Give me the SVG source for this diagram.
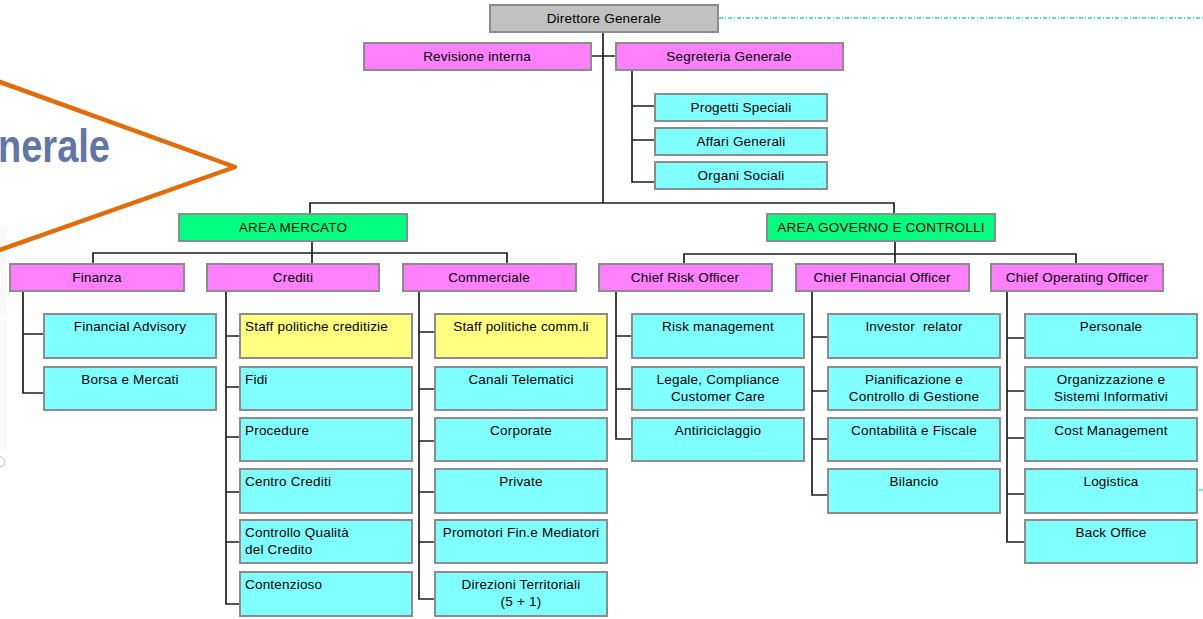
<svg xmlns="http://www.w3.org/2000/svg" width="1203" height="619" viewBox="0 0 1203 619">
<style>
.b{stroke:#8c8c8c;stroke-width:2}
.pk{fill:#ff80ff}.cy{fill:#80ffff}.ye{fill:#ffff80}.gr{fill:#00ff80}.gy{fill:#c0c0c0}
.t{font-family:"Liberation Sans",Arial,sans-serif;font-size:13.5px;letter-spacing:0.2px;fill:#000}
.c{text-anchor:middle}
.ln{fill:none;stroke:#1e1e1e;stroke-width:1.7}
</style>
<rect width="1203" height="619" fill="#fff"/>
<!-- background decoration -->
<g id="decor">
<rect x="0" y="227" width="7" height="88" fill="#f9f9f9"/>
<rect x="0" y="320" width="7" height="130" fill="#fafafa"/>
<path d="M0 456 L4 459 L5 465 L0 467" fill="none" stroke="#c8c8c8" stroke-width="1"/>
<polyline points="-10,78.4 235,167 -10,253.5" fill="none" stroke="#e36c0a" stroke-width="4.5" stroke-linejoin="round"/>
<text x="-2" y="162" textLength="112" lengthAdjust="spacingAndGlyphs" font-family="Liberation Sans,Arial,sans-serif" font-size="46" font-weight="bold" fill="#6275a8">nerale</text>
<line x1="719" y1="18" x2="1203" y2="18" stroke="#20dca8" stroke-width="1.5" stroke-dasharray="4 2 1 2"/>
<line x1="1199" y1="490" x2="1203" y2="490" stroke="#20dca8" stroke-width="1.5" stroke-dasharray="2 1"/>
</g>
<g id="connectors" class="ln">
<path d="M603 32V203M591 56H616"/>
<path d="M632 70V182H655M632 106H655M632 140H655"/>
<path d="M310 214V203H894V214"/>
<path d="M312 241V264M93 264V253H507V264"/>
<path d="M895 241V264M684 264V254H1076V264"/>
<path d="M23 291V393H44M23 334H44"/>
<path d="M226 291V604H240M226 336H240M226 387H240M226 437H240M226 492H240M226 542H240"/>
<path d="M419 291V599H435M419 332H435M419 389H435M419 441H435M419 492H435M419 542H435"/>
<path d="M616 291V439H632M616 336H632M616 389H632"/>
<path d="M812 291V495H828M812 337H828M812 391H828M812 439H828"/>
<path d="M1007 291V542H1025M1007 338H1025M1007 391H1025M1007 438H1025M1007 494H1025"/>
</g>
<g id="dg"><rect class="b gy" x="490" y="5" width="228" height="27"/><text class="t c" x="604" y="23">Direttore Generale</text></g>
<g id="revisione"><rect class="b pk" x="364" y="43" width="227" height="27"/><text class="t c" x="477" y="61">Revisione interna</text></g>
<g id="segreteria"><rect class="b pk" x="616" y="43" width="227" height="27"/><text class="t c" x="729" y="61">Segreteria Generale</text></g>
<g id="progetti"><rect class="b cy" x="655" y="94" width="172" height="27"/><text class="t c" x="741" y="112">Progetti Speciali</text></g>
<g id="affari"><rect class="b cy" x="655" y="128" width="172" height="27"/><text class="t c" x="741" y="146">Affari Generali</text></g>
<g id="organi"><rect class="b cy" x="655" y="162" width="172" height="27"/><text class="t c" x="741" y="180">Organi Sociali</text></g>
<g id="area-mercato"><rect class="b gr" x="179" y="214" width="228" height="27"/><text class="t c" x="293" y="232">AREA MERCATO</text></g>
<g id="area-governo"><rect class="b gr" x="767" y="214" width="228" height="27"/><text class="t c" x="881" y="232">AREA GOVERNO E CONTROLLI</text></g>
<g id="finanza"><rect class="b pk" x="10" y="264" width="174" height="27"/><text class="t c" x="97" y="282">Finanza</text></g>
<g id="crediti"><rect class="b pk" x="207" y="264" width="172" height="27"/><text class="t c" x="293" y="282">Crediti</text></g>
<g id="commerciale"><rect class="b pk" x="403" y="264" width="173" height="27"/><text class="t c" x="489" y="282">Commerciale</text></g>
<g id="cro"><rect class="b pk" x="599" y="264" width="173" height="27"/><text class="t c" x="685" y="282">Chief Risk Officer</text></g>
<g id="cfo"><rect class="b pk" x="796" y="264" width="173" height="27"/><text class="t c" x="882" y="282">Chief Financial Officer</text></g>
<g id="coo"><rect class="b pk" x="991" y="264" width="172" height="27"/><text class="t c" x="1077" y="282">Chief Operating Officer</text></g>
<!-- Finanza children -->
<g id="fin-advisory"><rect class="b cy" x="44" y="314" width="172" height="44"/><text class="t c" x="130" y="331">Financial Advisory</text></g>
<g id="fin-borsa"><rect class="b cy" x="44" y="367" width="172" height="43"/><text class="t c" x="130" y="384">Borsa e Mercati</text></g>
<!-- Crediti children -->
<g id="cr-staff"><rect class="b ye" x="240" y="314" width="172" height="44"/><text class="t" x="245" y="331">Staff politiche creditizie</text></g>
<g id="cr-fidi"><rect class="b cy" x="240" y="367" width="172" height="43"/><text class="t" x="245" y="384">Fidi</text></g>
<g id="cr-procedure"><rect class="b cy" x="240" y="418" width="172" height="43"/><text class="t" x="245" y="435">Procedure</text></g>
<g id="cr-centro"><rect class="b cy" x="240" y="469" width="172" height="44"/><text class="t" x="245" y="486">Centro Crediti</text></g>
<g id="cr-controllo"><rect class="b cy" x="240" y="520" width="172" height="43"/><text class="t" x="245" y="537">Controllo Qualità</text><text class="t" x="245" y="554">del Credito</text></g>
<g id="cr-contenzioso"><rect class="b cy" x="240" y="572" width="172" height="44"/><text class="t" x="245" y="589">Contenzioso</text></g>
<!-- Commerciale children -->
<g id="co-staff"><rect class="b ye" x="435" y="314" width="172" height="44"/><text class="t c" x="521" y="331">Staff politiche comm.li</text></g>
<g id="co-canali"><rect class="b cy" x="435" y="367" width="172" height="43"/><text class="t c" x="521" y="384">Canali Telematici</text></g>
<g id="co-corporate"><rect class="b cy" x="435" y="418" width="172" height="43"/><text class="t c" x="521" y="435">Corporate</text></g>
<g id="co-private"><rect class="b cy" x="435" y="469" width="172" height="44"/><text class="t c" x="521" y="486">Private</text></g>
<g id="co-promotori"><rect class="b cy" x="435" y="520" width="172" height="43"/><text class="t c" x="521" y="537">Promotori Fin.e Mediatori</text></g>
<g id="co-direzioni"><rect class="b cy" x="435" y="572" width="172" height="44"/><text class="t c" x="521" y="589">Direzioni Territoriali</text><text class="t c" x="521" y="606">(5 + 1)</text></g>
<!-- CRO children -->
<g id="cro-risk"><rect class="b cy" x="632" y="314" width="172" height="44"/><text class="t c" x="718" y="331">Risk management</text></g>
<g id="cro-legale"><rect class="b cy" x="632" y="367" width="172" height="43"/><text class="t c" x="718" y="384">Legale, Compliance</text><text class="t c" x="718" y="401">Customer Care</text></g>
<g id="cro-antiriciclaggio"><rect class="b cy" x="632" y="418" width="172" height="43"/><text class="t c" x="718" y="435">Antiriciclaggio</text></g>
<!-- CFO children -->
<g id="cfo-investor"><rect class="b cy" x="828" y="314" width="172" height="44"/><text class="t c" x="914" y="331" style="white-space:pre">Investor  relator</text></g>
<g id="cfo-pianificazione"><rect class="b cy" x="828" y="367" width="172" height="43"/><text class="t c" x="914" y="384">Pianificazione e</text><text class="t c" x="914" y="401">Controllo di Gestione</text></g>
<g id="cfo-contabilita"><rect class="b cy" x="828" y="418" width="172" height="43"/><text class="t c" x="914" y="435">Contabilità e Fiscale</text></g>
<g id="cfo-bilancio"><rect class="b cy" x="828" y="469" width="172" height="44"/><text class="t c" x="914" y="486">Bilancio</text></g>
<!-- COO children -->
<g id="coo-personale"><rect class="b cy" x="1025" y="314" width="172" height="44"/><text class="t c" x="1111" y="331">Personale</text></g>
<g id="coo-organizzazione"><rect class="b cy" x="1025" y="367" width="172" height="43"/><text class="t c" x="1111" y="384">Organizzazione e</text><text class="t c" x="1111" y="401">Sistemi Informativi</text></g>
<g id="coo-cost"><rect class="b cy" x="1025" y="418" width="172" height="43"/><text class="t c" x="1111" y="435">Cost Management</text></g>
<g id="coo-logistica"><rect class="b cy" x="1025" y="469" width="172" height="44"/><text class="t c" x="1111" y="486">Logistica</text></g>
<g id="coo-back"><rect class="b cy" x="1025" y="520" width="172" height="43"/><text class="t c" x="1111" y="537">Back Office</text></g>
</svg>
